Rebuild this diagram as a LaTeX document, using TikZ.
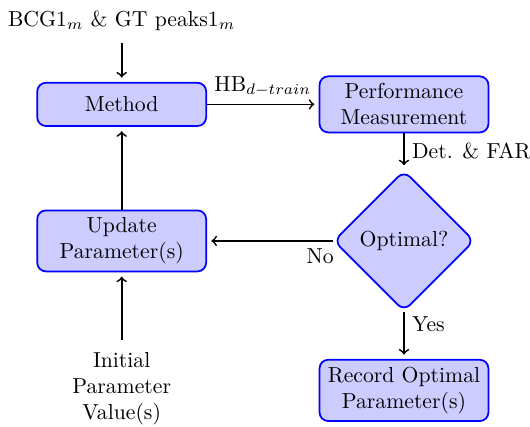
\documentclass[tikz,border=0pt]{standalone}
\usetikzlibrary{shapes.geometric}
\tikzset{%
     stepbox/.style = { rectangle, draw=blue, thick, fill=blue!20, rounded corners,
                        text width=2.5cm, align=center, minimum height=0.7cm },
    decision/.style = { diamond, draw=blue, thick, fill=blue!20, rounded corners,
                        minimum size=2.28cm, inner sep=0pt },
      plain/.style = { align=center },
       flow/.style = { ->, thick, shorten >=2pt }
}
\begin{document}
\begin{tikzpicture}

  \useasboundingbox (0,0) rectangle (8.58,-6.91);

  \node[plain]    (input)   at (1.97,-0.34) {BCG1$_m$ \& GT peaks1$_m$};
  \node[stepbox]  (method)  at (1.97,-1.69) {Method};
  \node[stepbox]  (perf)    at (6.54,-1.69) {Performance\\ Measurement};
  \node[decision] (optimal) at (6.54,-3.90) {Optimal?};
  \node[stepbox]  (update)  at (1.97,-3.90) {Update\\ Parameter(s)};
  \node[plain]    (initial) at (1.97,-6.29) {Initial\\ Parameter\\ Value(s)};
  \node[stepbox]  (record)  at (6.54,-6.32) {Record Optimal\\ Parameter(s)};

  \draw[flow, shorten <=2pt] (input) -- (method);
  \draw[flow] (method) -- node[above]{HB$_{d-train}$} (perf);
  \draw[flow] (perf) -- node[right]{Det. \& FAR} (optimal);
  \draw[flow] (optimal) -- node[pos=.1, below]{No} (update);
  \draw[flow] (optimal) -- node[near start, right]{Yes} (record);
  \draw[flow] (update) -- (method);
  \draw[flow, shorten <=2pt] (initial) -- (update);

\end{tikzpicture}
\end{document}
